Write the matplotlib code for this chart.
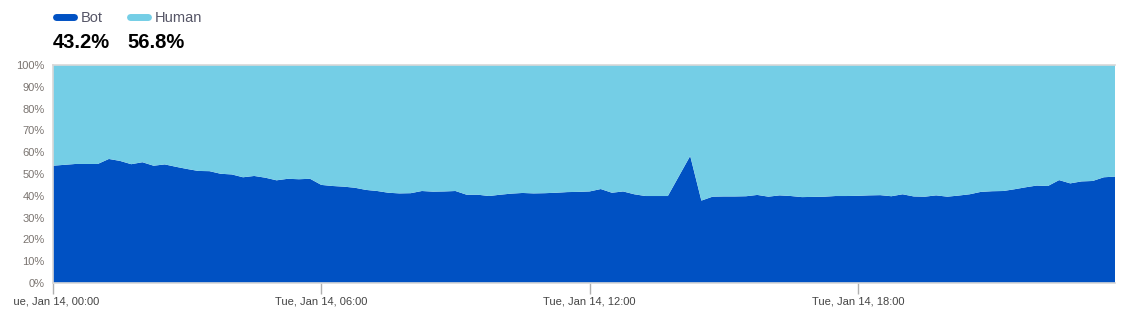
import pandas as pd
import matplotlib
matplotlib.use("Agg")
import matplotlib.pyplot as plt
import matplotlib.dates as mdates
from matplotlib.lines import Line2D
from matplotlib.transforms import Bbox

plt.rcParams['font.family'] = ['Liberation Sans', 'DejaVu Sans']

# Bot share (%) every 15 minutes, Tue Jan 14
bot_share = [
    53.8, 54.2, 54.6, 54.6, 54.6, 56.9, 56.0, 54.5, 55.4, 53.8, 54.4, 53.3,
    52.3, 51.4, 51.3, 50.1, 49.8, 48.5, 49.1, 48.3, 47.1, 47.8, 47.6, 47.8,
    45.0, 44.5, 44.2, 43.7, 42.7, 42.2, 41.4, 41.1, 41.2, 42.2, 41.9, 42.0,
    42.2, 40.5, 40.5, 39.9, 40.5, 41.0, 41.3, 41.1, 41.2, 41.4, 41.7, 41.8,
    42.0, 43.1, 41.4, 42.0, 40.7, 39.9, 39.9, 39.9, 49.1, 58.3, 37.8, 39.6,
    39.7, 39.7, 39.8, 40.4, 39.6, 40.2, 39.9, 39.4, 39.5, 39.6, 39.9, 39.9,
    40.0, 40.2, 40.3, 39.8, 40.7, 39.7, 39.6, 40.2, 39.6, 40.1, 40.7, 41.8,
    42.1, 42.2, 43.0, 43.9, 44.7, 44.5, 47.2, 45.7, 46.6, 46.8, 48.5, 48.8,
]
human_share = [100 - v for v in bot_share]
times = pd.date_range("2025-01-14 00:00", periods=len(bot_share), freq="15min")

series_names = ["Bot", "Human"]
summary = ["43.2%", "56.8%"]
colors = ["#0051C3", "#74CEE6"]

fig = plt.figure(figsize=(11.37, 3.16), dpi=100)
ax = fig.add_axes([53 / 1137, 33 / 316, 1062 / 1137, 218 / 316])

ax.stackplot(times, bot_share, human_share, colors=colors, linewidth=0)

ax.set_xlim(times[0], times[-1])
ax.set_ylim(0, 100)
ax.set_yticks(range(0, 101, 10))
ax.set_yticklabels([f"{v}%" for v in range(0, 101, 10)])
ax.xaxis.set_major_locator(mdates.HourLocator(byhour=[0, 6, 12, 18]))
ax.xaxis.set_major_formatter(mdates.DateFormatter("Tue, Jan %d, %H:%M"))

for s in ["top", "left", "bottom"]:
    ax.spines[s].set_color("#d8d8d8")
    ax.spines[s].set_linewidth(1.2)
ax.spines["right"].set_visible(False)
ax.tick_params(axis="y", length=0, labelsize=8, labelcolor="#7a7470", pad=6)
ax.tick_params(axis="x", length=8, width=1, color="#b0b0b0",
               labelsize=8, labelcolor="#444444", pad=2)

# first date label is cut off at the left edge, as in the original page
fig.canvas.draw()
first = ax.get_xticklabels()[0]
first.set_clip_box(Bbox.from_extents(14, 0, 1137, 316))
first.set_clip_on(True)

# legend with summary values
legend_x = [53, 127]
for name, val, c, lx in zip(series_names, summary, colors, legend_x):
    fig.add_artist(Line2D([(lx + 3) / 1137, (lx + 21) / 1137], [1 - 17 / 316] * 2,
                          color=c, linewidth=5, solid_capstyle="round",
                          transform=fig.transFigure))
    fig.text((lx + 28) / 1137, 1 - 18 / 316, name, fontsize=10.5, color="#555566",
             va="center", ha="left")
    fig.text(lx / 1137, 1 - 42 / 316, val, fontsize=14.5, fontweight="bold",
             color="#000000", va="center", ha="left")

fig.savefig("out.png", dpi=100)
